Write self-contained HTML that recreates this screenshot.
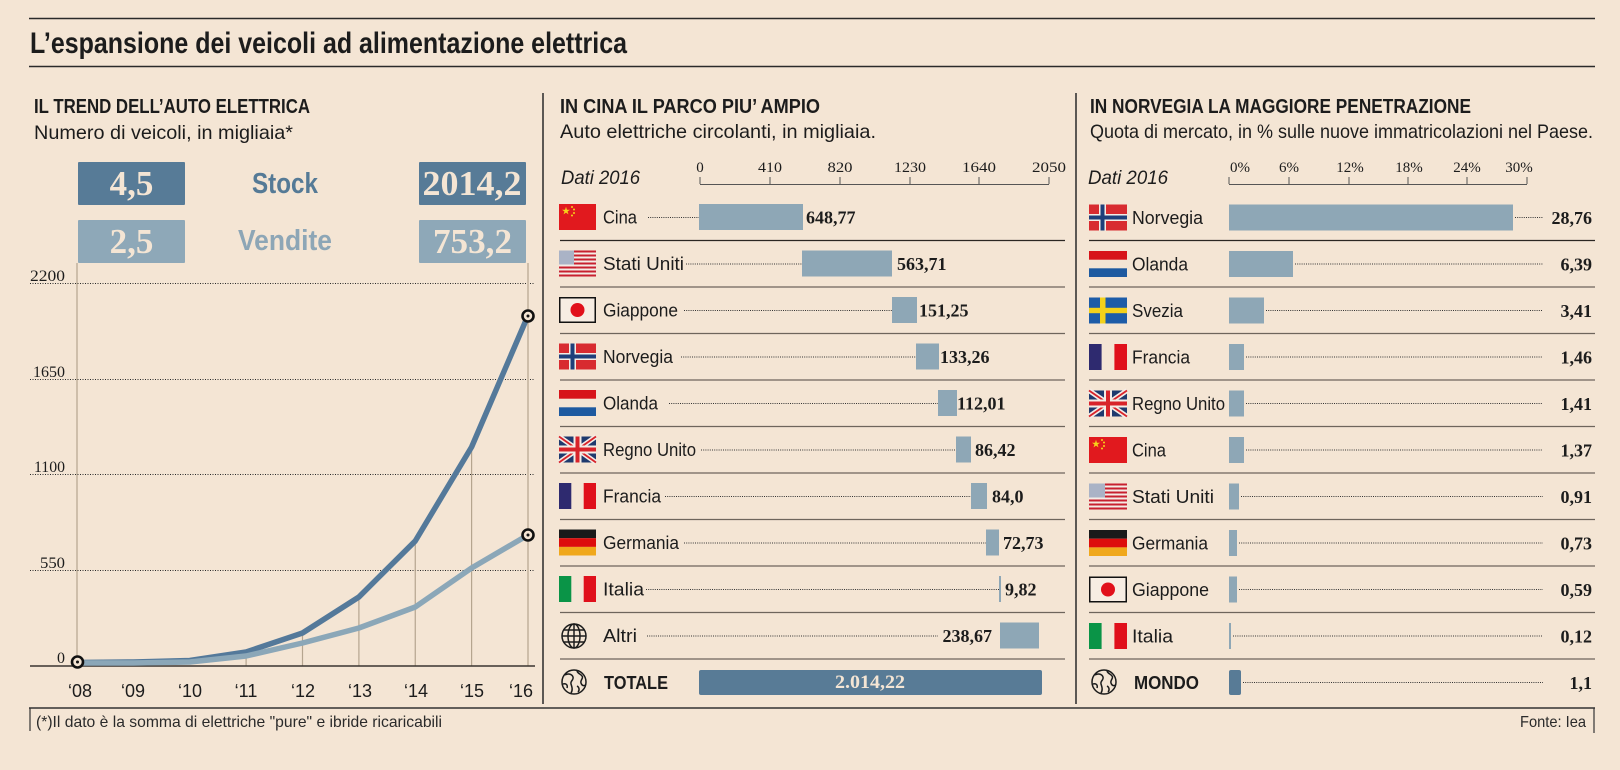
<!DOCTYPE html>
<html><head><meta charset="utf-8"><style>
html,body{margin:0;padding:0;background:#f4e5d4;}
svg{display:block;}
.s{font-family:"Liberation Sans",sans-serif;}
.r{font-family:"Liberation Serif",serif;}
</style></head><body>
<svg width="1620" height="770" viewBox="0 0 1620 770" xmlns="http://www.w3.org/2000/svg">
<rect width="1620" height="770" fill="#f4e5d4"/>
<!-- header -->
<line x1="29" y1="18.5" x2="1595" y2="18.5" stroke="#2a2a2a" stroke-width="1.5"/>
<text x="30" y="53" class="s" font-size="30" font-weight="bold" fill="#1c1c1c" textLength="597" lengthAdjust="spacingAndGlyphs">L’espansione dei veicoli ad alimentazione elettrica</text>
<line x1="29" y1="66.5" x2="1595" y2="66.5" stroke="#2a2a2a" stroke-width="1.5"/>

<!-- dividers -->
<line x1="543" y1="93" x2="543" y2="704" stroke="#2a2a2a" stroke-width="1.5"/>
<line x1="1076" y1="93" x2="1076" y2="704" stroke="#2a2a2a" stroke-width="1.5"/>
<line x1="29" y1="708" x2="1595" y2="708" stroke="#333" stroke-width="1.5"/>
<line x1="30" y1="708" x2="30" y2="731" stroke="#333" stroke-width="1.2"/>
<line x1="1594" y1="708" x2="1594" y2="733" stroke="#333" stroke-width="1.2"/>
<text x="36" y="727" class="s" font-size="16" fill="#2a2a2a" textLength="406" lengthAdjust="spacingAndGlyphs">(*)Il dato è la somma di elettriche "pure" e ibride ricaricabili</text>
<text x="1586" y="727" class="s" font-size="16" fill="#2a2a2a" text-anchor="end" textLength="66" lengthAdjust="spacingAndGlyphs">Fonte: Iea</text>

<!-- ===== LEFT PANEL ===== -->
<text x="34" y="113" class="s" font-size="20" font-weight="bold" fill="#1c1c1c" textLength="276" lengthAdjust="spacingAndGlyphs">IL TREND DELL’AUTO ELETTRICA</text>
<text x="34" y="139" class="s" font-size="19.5" fill="#1c1c1c" textLength="259" lengthAdjust="spacingAndGlyphs">Numero di veicoli, in migliaia*</text>

<rect x="78" y="162" width="107" height="43" fill="#577b97" rx="1"/>
<rect x="419" y="162" width="107" height="43" fill="#577b97" rx="1"/>
<rect x="78" y="220" width="107" height="43" fill="#8ea8b8" rx="1"/>
<rect x="419" y="220" width="107" height="43" fill="#8ea8b8" rx="1"/>
<text x="131.5" y="195" class="r" font-size="35" font-weight="bold" fill="#f4e5d4" text-anchor="middle">4,5</text>
<text x="472" y="195" class="r" font-size="35" font-weight="bold" fill="#f4e5d4" text-anchor="middle" textLength="99" lengthAdjust="spacingAndGlyphs">2014,2</text>
<text x="131.5" y="253" class="r" font-size="35" font-weight="bold" fill="#f4e5d4" text-anchor="middle">2,5</text>
<text x="472.5" y="253" class="r" font-size="35" font-weight="bold" fill="#f4e5d4" text-anchor="middle" textLength="79" lengthAdjust="spacingAndGlyphs">753,2</text>
<text x="285" y="193" class="s" font-size="29" font-weight="bold" fill="#557a96" text-anchor="middle" textLength="66" lengthAdjust="spacingAndGlyphs">Stock</text>
<text x="285" y="250" class="s" font-size="29" font-weight="bold" fill="#8da6b6" text-anchor="middle" textLength="94" lengthAdjust="spacingAndGlyphs">Vendite</text>

<!-- gridlines -->
<g stroke="#2a2a2a" stroke-width="1" stroke-dasharray="1 1.5">
<line x1="30" y1="283.5" x2="535" y2="283.5"/>
<line x1="30" y1="379.5" x2="535" y2="379.5"/>
<line x1="30" y1="474.5" x2="535" y2="474.5"/>
<line x1="30" y1="570.5" x2="535" y2="570.5"/>
</g>
<g class="r" font-size="16" fill="#1c1c1c" text-anchor="end">
<text x="65" y="281" textLength="35" lengthAdjust="spacingAndGlyphs">2200</text>
<text x="65" y="377" textLength="32" lengthAdjust="spacingAndGlyphs">1650</text>
<text x="65" y="472" textLength="31" lengthAdjust="spacingAndGlyphs">1100</text>
<text x="65" y="568" textLength="25" lengthAdjust="spacingAndGlyphs">550</text>
<text x="65" y="663">0</text>
</g>
<!-- verticals -->
<g stroke="#b5a58f" stroke-width="1.2">
<line x1="77" y1="263" x2="77" y2="666"/>
<line x1="528" y1="263" x2="528" y2="666"/>
<line x1="246.1" y1="652" x2="246.1" y2="666"/>
<line x1="302.5" y1="633" x2="302.5" y2="666"/>
<line x1="358.9" y1="597" x2="358.9" y2="666"/>
<line x1="415.25" y1="541" x2="415.25" y2="666"/>
<line x1="471.6" y1="447" x2="471.6" y2="666"/>
</g>
<line x1="30" y1="666" x2="535" y2="666" stroke="#3a3530" stroke-width="1.5"/>
<!-- lines -->
<polyline fill="none" stroke="#54799a" stroke-width="5.5" stroke-linejoin="round" stroke-linecap="round"
 points="77,662.5 133.4,662 189.75,660.5 246.1,652 302.5,633 358.9,597 415.25,541 471.6,447 528,315.5"/>
<polyline fill="none" stroke="#8ba7b8" stroke-width="5.5" stroke-linejoin="round" stroke-linecap="round"
 points="77,663 133.4,663 189.75,662 246.1,656 302.5,643 358.9,628 415.25,607 471.6,568 528,535"/>
<g fill="#f4e5d4" stroke="#111" stroke-width="2.6">
<circle cx="77.5" cy="662" r="5.5"/>
<circle cx="528" cy="316" r="5.5"/>
<circle cx="528" cy="535" r="5.5"/>
</g>
<g fill="#111">
<circle cx="77.5" cy="662" r="1.5"/>
<circle cx="528" cy="316" r="1.5"/>
<circle cx="528" cy="535" r="1.5"/>
</g>
<g class="s" font-size="18" fill="#1c1c1c" text-anchor="middle">
<text x="80" y="697">‘08</text>
<text x="133" y="697">‘09</text>
<text x="190" y="697">‘10</text>
<text x="246" y="697">‘11</text>
<text x="303" y="697">‘12</text>
<text x="360" y="697">‘13</text>
<text x="416" y="697">‘14</text>
<text x="472" y="697">‘15</text>
<text x="521" y="697">‘16</text>
</g>

<!-- ===== MIDDLE PANEL ===== -->
<text x="560" y="113" class="s" font-size="20" font-weight="bold" fill="#1c1c1c" textLength="260" lengthAdjust="spacingAndGlyphs">IN CINA IL PARCO PIU’ AMPIO</text>
<text x="560" y="138" class="s" font-size="19.5" fill="#1c1c1c" textLength="316" lengthAdjust="spacingAndGlyphs">Auto elettriche circolanti, in migliaia.</text>
<text x="561" y="184" class="s" font-size="19" font-style="italic" fill="#1c1c1c" textLength="79" lengthAdjust="spacingAndGlyphs">Dati 2016</text>
<g stroke="#555" stroke-width="1">
<line x1="700" y1="184.5" x2="1049" y2="184.5"/>
<line x1="700" y1="177" x2="700" y2="184"/>
<line x1="770" y1="177" x2="770" y2="184"/>
<line x1="840" y1="177" x2="840" y2="184"/>
<line x1="910" y1="177" x2="910" y2="184"/>
<line x1="979" y1="177" x2="979" y2="184"/>
<line x1="1049" y1="177" x2="1049" y2="184"/>
</g>
<g class="r" font-size="15" fill="#1c1c1c" text-anchor="middle">
<text x="700" y="172">0</text>
<text x="770" y="172" textLength="24" lengthAdjust="spacingAndGlyphs">410</text>
<text x="840" y="172" textLength="25" lengthAdjust="spacingAndGlyphs">820</text>
<text x="910" y="172" textLength="32" lengthAdjust="spacingAndGlyphs">1230</text>
<text x="979" y="172" textLength="34" lengthAdjust="spacingAndGlyphs">1640</text>
<text x="1049" y="172" textLength="34" lengthAdjust="spacingAndGlyphs">2050</text>
</g>
<!-- separators middle -->
<g stroke="#6e655c" stroke-width="1.2">
<line x1="560" y1="240.5" x2="1065" y2="240.5" stroke="#2b2622"/>
<line x1="560" y1="287" x2="1065" y2="287"/>
<line x1="560" y1="333.5" x2="1065" y2="333.5"/>
<line x1="560" y1="380" x2="1065" y2="380"/>
<line x1="560" y1="426.5" x2="1065" y2="426.5"/>
<line x1="560" y1="473" x2="1065" y2="473"/>
<line x1="560" y1="519.5" x2="1065" y2="519.5"/>
<line x1="560" y1="566" x2="1065" y2="566"/>
<line x1="560" y1="612.5" x2="1065" y2="612.5"/>
<line x1="560" y1="659" x2="1065" y2="659"/>
</g>
<!-- leaders middle -->
<g stroke="#333" stroke-width="1" stroke-dasharray="1 1.2">
<line x1="648" y1="217.5" x2="699" y2="217.5"/>
<line x1="686" y1="264" x2="802" y2="264"/>
<line x1="684" y1="310.5" x2="892" y2="310.5"/>
<line x1="681" y1="357" x2="916" y2="357"/>
<line x1="669" y1="403.5" x2="938" y2="403.5"/>
<line x1="701" y1="450" x2="956" y2="450"/>
<line x1="665" y1="496.5" x2="971" y2="496.5"/>
<line x1="684" y1="543" x2="986" y2="543"/>
<line x1="646" y1="589.5" x2="999" y2="589.5"/>
<line x1="647" y1="636" x2="938" y2="636"/>
</g>
<!-- bars middle -->
<g fill="#8ea7b6">
<rect x="699" y="204" width="104" height="26"/>
<rect x="802" y="250.5" width="90" height="26"/>
<rect x="892" y="297" width="25" height="26"/>
<rect x="916" y="343.5" width="23" height="26"/>
<rect x="938" y="390" width="19" height="26"/>
<rect x="956" y="436.5" width="15" height="26"/>
<rect x="971" y="483" width="16" height="26"/>
<rect x="986" y="529.5" width="13" height="26"/>
<rect x="999" y="576" width="2" height="26"/>
<rect x="1000" y="622.5" width="39" height="26"/>
</g>
<rect x="699" y="670" width="343" height="25" rx="2" fill="#587b96"/>
<text x="870" y="688" class="r" font-size="19" font-weight="bold" fill="#f4e5d4" text-anchor="middle" textLength="70" lengthAdjust="spacingAndGlyphs">2.014,22</text>
<g class="r" font-size="18" font-weight="bold" fill="#1c1c1c">
<text x="806" y="223.5">648,77</text>
<text x="897" y="270">563,71</text>
<text x="919" y="316.5">151,25</text>
<text x="940" y="363">133,26</text>
<text x="957" y="409.5">112,01</text>
<text x="975" y="456">86,42</text>
<text x="992" y="502.5">84,0</text>
<text x="1003" y="549">72,73</text>
<text x="1005" y="595.5">9,82</text>
<text x="992" y="642" text-anchor="end">238,67</text>
</g>
<g class="s" font-size="18.5" fill="#1c1c1c">
<text x="603" y="223.5" textLength="34" lengthAdjust="spacingAndGlyphs">Cina</text>
<text x="603" y="270" textLength="81" lengthAdjust="spacingAndGlyphs">Stati Uniti</text>
<text x="603" y="316.5" textLength="75" lengthAdjust="spacingAndGlyphs">Giappone</text>
<text x="603" y="363" textLength="70" lengthAdjust="spacingAndGlyphs">Norvegia</text>
<text x="603" y="409.5" textLength="55" lengthAdjust="spacingAndGlyphs">Olanda</text>
<text x="603" y="456" textLength="93" lengthAdjust="spacingAndGlyphs">Regno Unito</text>
<text x="603" y="502.5" textLength="58" lengthAdjust="spacingAndGlyphs">Francia</text>
<text x="603" y="549" textLength="76" lengthAdjust="spacingAndGlyphs">Germania</text>
<text x="603" y="595.5" textLength="41" lengthAdjust="spacingAndGlyphs">Italia</text>
<text x="603" y="642" textLength="34" lengthAdjust="spacingAndGlyphs">Altri</text>
<text x="604" y="689" font-weight="bold" textLength="64" lengthAdjust="spacingAndGlyphs">TOTALE</text>
</g>

<!-- ===== RIGHT PANEL ===== -->
<text x="1090" y="113" class="s" font-size="20" font-weight="bold" fill="#1c1c1c" textLength="381" lengthAdjust="spacingAndGlyphs">IN NORVEGIA LA MAGGIORE PENETRAZIONE</text>
<text x="1090" y="138" class="s" font-size="19.5" fill="#1c1c1c" textLength="503" lengthAdjust="spacingAndGlyphs">Quota di mercato, in % sulle nuove immatricolazioni nel Paese.</text>
<text x="1088" y="184" class="s" font-size="19" font-style="italic" fill="#1c1c1c" textLength="80" lengthAdjust="spacingAndGlyphs">Dati 2016</text>
<g stroke="#555" stroke-width="1">
<line x1="1229" y1="184.5" x2="1527" y2="184.5"/>
<line x1="1229" y1="177" x2="1229" y2="184"/>
<line x1="1289" y1="177" x2="1289" y2="184"/>
<line x1="1349" y1="177" x2="1349" y2="184"/>
<line x1="1408" y1="177" x2="1408" y2="184"/>
<line x1="1467" y1="177" x2="1467" y2="184"/>
<line x1="1527" y1="177" x2="1527" y2="184"/>
</g>
<g class="r" font-size="15" fill="#1c1c1c" text-anchor="middle">
<text x="1240" y="172">0%</text>
<text x="1289" y="172">6%</text>
<text x="1350" y="172">12%</text>
<text x="1409" y="172">18%</text>
<text x="1467" y="172">24%</text>
<text x="1519" y="172">30%</text>
</g>
<g stroke="#6e655c" stroke-width="1.2">
<line x1="1089" y1="240.5" x2="1595" y2="240.5" stroke="#2b2622"/>
<line x1="1089" y1="287" x2="1595" y2="287"/>
<line x1="1089" y1="333.5" x2="1595" y2="333.5"/>
<line x1="1089" y1="380" x2="1595" y2="380"/>
<line x1="1089" y1="426.5" x2="1595" y2="426.5"/>
<line x1="1089" y1="473" x2="1595" y2="473"/>
<line x1="1089" y1="519.5" x2="1595" y2="519.5"/>
<line x1="1089" y1="566" x2="1595" y2="566"/>
<line x1="1089" y1="612.5" x2="1595" y2="612.5"/>
<line x1="1089" y1="659" x2="1595" y2="659"/>
</g>
<g stroke="#333" stroke-width="1" stroke-dasharray="1 1.2">
<line x1="1515" y1="217.5" x2="1543" y2="217.5"/>
<line x1="1295" y1="264" x2="1543" y2="264"/>
<line x1="1266" y1="310.5" x2="1543" y2="310.5"/>
<line x1="1246" y1="357" x2="1543" y2="357"/>
<line x1="1246" y1="403.5" x2="1543" y2="403.5"/>
<line x1="1246" y1="450" x2="1543" y2="450"/>
<line x1="1241" y1="496.5" x2="1543" y2="496.5"/>
<line x1="1239" y1="543" x2="1543" y2="543"/>
<line x1="1239" y1="589.5" x2="1543" y2="589.5"/>
<line x1="1233" y1="636" x2="1543" y2="636"/>
<line x1="1243" y1="682.5" x2="1543" y2="682.5"/>
</g>
<g fill="#8ea7b6">
<rect x="1229" y="204.5" width="284" height="26"/>
<rect x="1229" y="251" width="64" height="26"/>
<rect x="1229" y="297.5" width="35" height="26"/>
<rect x="1229" y="344" width="15" height="26"/>
<rect x="1229" y="390.5" width="15" height="26"/>
<rect x="1229" y="437" width="15" height="26"/>
<rect x="1229" y="483.5" width="10" height="26"/>
<rect x="1229" y="530" width="8" height="26"/>
<rect x="1229" y="576.5" width="8" height="26"/>
<rect x="1229" y="623" width="2" height="26"/>
</g>
<rect x="1229" y="670" width="12" height="25" rx="2" fill="#587b96"/>
<g class="r" font-size="18" font-weight="bold" fill="#1c1c1c" text-anchor="end">
<text x="1592" y="224">28,76</text>
<text x="1592" y="270.5">6,39</text>
<text x="1592" y="317">3,41</text>
<text x="1592" y="363.5">1,46</text>
<text x="1592" y="410">1,41</text>
<text x="1592" y="456.5">1,37</text>
<text x="1592" y="503">0,91</text>
<text x="1592" y="549.5">0,73</text>
<text x="1592" y="596">0,59</text>
<text x="1592" y="642.5">0,12</text>
<text x="1592" y="689">1,1</text>
</g>
<g class="s" font-size="18.5" fill="#1c1c1c">
<text x="1132" y="224" textLength="71" lengthAdjust="spacingAndGlyphs">Norvegia</text>
<text x="1132" y="270.5" textLength="56" lengthAdjust="spacingAndGlyphs">Olanda</text>
<text x="1132" y="317" textLength="51" lengthAdjust="spacingAndGlyphs">Svezia</text>
<text x="1132" y="363.5" textLength="58" lengthAdjust="spacingAndGlyphs">Francia</text>
<text x="1132" y="410" textLength="93" lengthAdjust="spacingAndGlyphs">Regno Unito</text>
<text x="1132" y="456.5" textLength="34" lengthAdjust="spacingAndGlyphs">Cina</text>
<text x="1132" y="503" textLength="82" lengthAdjust="spacingAndGlyphs">Stati Uniti</text>
<text x="1132" y="549.5" textLength="76" lengthAdjust="spacingAndGlyphs">Germania</text>
<text x="1132" y="596" textLength="77" lengthAdjust="spacingAndGlyphs">Giappone</text>
<text x="1132" y="642.5" textLength="41" lengthAdjust="spacingAndGlyphs">Italia</text>
<text x="1134" y="689" font-weight="bold" textLength="65" lengthAdjust="spacingAndGlyphs">MONDO</text>
</g>

<!-- ===== FLAGS (middle, x=559) ===== -->
<!-- China -->
<g transform="translate(559,204)">
<rect width="37" height="26" fill="#e1191e"/>
<polygon fill="#f6d21a" transform="translate(7,7) scale(4.2)" points="0,-1 0.225,-0.309 0.951,-0.309 0.363,0.118 0.588,0.809 0,0.382 -0.588,0.809 -0.363,0.118 -0.951,-0.309 -0.225,-0.309"/>
<circle cx="13" cy="3" r="1" fill="#f6d21a"/><circle cx="15" cy="5.5" r="1" fill="#f6d21a"/>
<circle cx="15" cy="9" r="1" fill="#f6d21a"/><circle cx="13" cy="11.5" r="1" fill="#f6d21a"/>
</g>
<!-- USA -->
<g transform="translate(559,250.5)">
<rect width="37" height="26" fill="#f4ece6"/>
<g fill="#c8202f"><rect y="0" width="37" height="2"/><rect y="4" width="37" height="2"/><rect y="8" width="37" height="2"/><rect y="12" width="37" height="2"/><rect y="16" width="37" height="2"/><rect y="20" width="37" height="2"/><rect y="24" width="37" height="2"/></g>
<rect width="15" height="14" fill="#aab3c6"/>
</g>
<!-- Japan -->
<g transform="translate(559,297)">
<rect x="0.75" y="0.75" width="35.5" height="24.5" fill="#f7ede3" stroke="#111" stroke-width="1.5"/>
<circle cx="18.5" cy="13" r="7" fill="#e1101b"/>
</g>
<!-- Norway -->
<g transform="translate(559,343.5)">
<rect width="37" height="26" fill="#d82b30"/>
<rect x="10" width="7" height="26" fill="#f4ece6"/><rect y="9.5" width="37" height="7" fill="#f4ece6"/>
<rect x="11.5" width="4" height="26" fill="#1f3f7a"/><rect y="11" width="37" height="4" fill="#1f3f7a"/>
</g>
<!-- Netherlands -->
<g transform="translate(559,390)">
<rect width="37" height="8.7" fill="#d7141a"/><rect y="17.3" width="37" height="8.7" fill="#1e5aa0"/>
</g>
<!-- UK -->
<g transform="translate(559,436.5)">
<rect width="37" height="26" fill="#1f3a6e"/>
<path d="M0,0 L37,26 M37,0 L0,26" stroke="#f4ece6" stroke-width="5"/>
<path d="M0,0 L37,26 M37,0 L0,26" stroke="#d8232a" stroke-width="1.8"/>
<rect x="14.5" width="8" height="26" fill="#f4ece6"/><rect y="9" width="37" height="8" fill="#f4ece6"/>
<rect x="16.5" width="4" height="26" fill="#d8232a"/><rect y="11" width="37" height="4" fill="#d8232a"/>
</g>
<!-- France -->
<g transform="translate(559,483)">
<rect width="12.3" height="26" fill="#2e2a6f"/><rect x="24.7" width="12.3" height="26" fill="#e0101b"/>
</g>
<!-- Germany -->
<g transform="translate(559,529.5)">
<rect width="37" height="8.7" fill="#1a1a1a"/><rect y="8.7" width="37" height="8.7" fill="#dd0d0d"/><rect y="17.4" width="37" height="8.6" fill="#f0a81c"/>
</g>
<!-- Italy -->
<g transform="translate(559,576)">
<rect width="12.3" height="26" fill="#0a9447"/><rect x="24.7" width="12.3" height="26" fill="#e0101b"/>
</g>
<!-- Altri grid globe -->
<g transform="translate(574,636)" fill="none" stroke="#1c1c1c" stroke-width="1.5">
<circle r="12"/><ellipse rx="6" ry="12"/><line x1="0" y1="-12" x2="0" y2="12"/>
<line x1="-12" y1="0" x2="12" y2="0"/><line x1="-10.4" y1="-6" x2="10.4" y2="-6"/><line x1="-10.4" y1="6" x2="10.4" y2="6"/>
</g>
<!-- Totale world globe -->
<g transform="translate(574,682)" fill="none" stroke="#1c1c1c" stroke-width="1.5">
<circle r="12"/>
<path d="M-9,-7 C-6,-9 -2,-8 -1,-5 C0,-2 -4,-1 -3,2 C-2,5 -1,8 -3,11"/>
<path d="M-11,2 C-8,1 -6,3 -7,6"/>
<path d="M3,-11 C4,-8 7,-8 8,-6 C10,-4 6,-2 7,1 C8,4 10,4 11,3"/>
<path d="M3,4 C5,5 6,8 4,10"/>
</g>

<!-- ===== FLAGS (right, x=1089) ===== -->
<!-- Norway -->
<g transform="translate(1089,204.5)">
<rect width="38" height="26" fill="#d82b30"/>
<rect x="10" width="7" height="26" fill="#f4ece6"/><rect y="9.5" width="38" height="7" fill="#f4ece6"/>
<rect x="11.5" width="4" height="26" fill="#1f3f7a"/><rect y="11" width="38" height="4" fill="#1f3f7a"/>
</g>
<!-- Netherlands -->
<g transform="translate(1089,251)">
<rect width="38" height="8.7" fill="#d7141a"/><rect y="17.3" width="38" height="8.7" fill="#1e5aa0"/>
</g>
<!-- Sweden -->
<g transform="translate(1089,297.5)">
<rect width="38" height="26" fill="#1d5ca8"/>
<rect x="11" width="5.5" height="26" fill="#f3d11b"/><rect y="10.3" width="38" height="5.4" fill="#f3d11b"/>
</g>
<!-- France -->
<g transform="translate(1089,344)">
<rect width="12.6" height="26" fill="#2e2a6f"/><rect x="25.4" width="12.6" height="26" fill="#e0101b"/>
</g>
<!-- UK -->
<g transform="translate(1089,390.5)">
<rect width="38" height="26" fill="#1f3a6e"/>
<path d="M0,0 L38,26 M38,0 L0,26" stroke="#f4ece6" stroke-width="5"/>
<path d="M0,0 L38,26 M38,0 L0,26" stroke="#d8232a" stroke-width="1.8"/>
<rect x="15" width="8" height="26" fill="#f4ece6"/><rect y="9" width="38" height="8" fill="#f4ece6"/>
<rect x="17" width="4" height="26" fill="#d8232a"/><rect y="11" width="38" height="4" fill="#d8232a"/>
</g>
<!-- China -->
<g transform="translate(1089,437)">
<rect width="38" height="26" fill="#e1191e"/>
<polygon fill="#f6d21a" transform="translate(7,7) scale(4.2)" points="0,-1 0.225,-0.309 0.951,-0.309 0.363,0.118 0.588,0.809 0,0.382 -0.588,0.809 -0.363,0.118 -0.951,-0.309 -0.225,-0.309"/>
<circle cx="13" cy="3" r="1" fill="#f6d21a"/><circle cx="15" cy="5.5" r="1" fill="#f6d21a"/>
<circle cx="15" cy="9" r="1" fill="#f6d21a"/><circle cx="13" cy="11.5" r="1" fill="#f6d21a"/>
</g>
<!-- USA -->
<g transform="translate(1089,483.5)">
<rect width="38" height="26" fill="#f4ece6"/>
<g fill="#c8202f"><rect y="0" width="38" height="2"/><rect y="4" width="38" height="2"/><rect y="8" width="38" height="2"/><rect y="12" width="38" height="2"/><rect y="16" width="38" height="2"/><rect y="20" width="38" height="2"/><rect y="24" width="38" height="2"/></g>
<rect width="16" height="14" fill="#aab3c6"/>
</g>
<!-- Germany -->
<g transform="translate(1089,530)">
<rect width="38" height="8.7" fill="#1a1a1a"/><rect y="8.7" width="38" height="8.7" fill="#dd0d0d"/><rect y="17.4" width="38" height="8.6" fill="#f0a81c"/>
</g>
<!-- Japan -->
<g transform="translate(1089,576.5)">
<rect x="0.75" y="0.75" width="36.5" height="24.5" fill="#f7ede3" stroke="#111" stroke-width="1.5"/>
<circle cx="19" cy="13" r="7" fill="#e1101b"/>
</g>
<!-- Italy -->
<g transform="translate(1089,623)">
<rect width="12.6" height="26" fill="#0a9447"/><rect x="25.4" width="12.6" height="26" fill="#e0101b"/>
</g>
<!-- MONDO globe -->
<g transform="translate(1104,682)" fill="none" stroke="#1c1c1c" stroke-width="1.5">
<circle r="12"/>
<path d="M-9,-7 C-6,-9 -2,-8 -1,-5 C0,-2 -4,-1 -3,2 C-2,5 -1,8 -3,11"/>
<path d="M-11,2 C-8,1 -6,3 -7,6"/>
<path d="M3,-11 C4,-8 7,-8 8,-6 C10,-4 6,-2 7,1 C8,4 10,4 11,3"/>
<path d="M3,4 C5,5 6,8 4,10"/>
</g>
</svg>
</body></html>
